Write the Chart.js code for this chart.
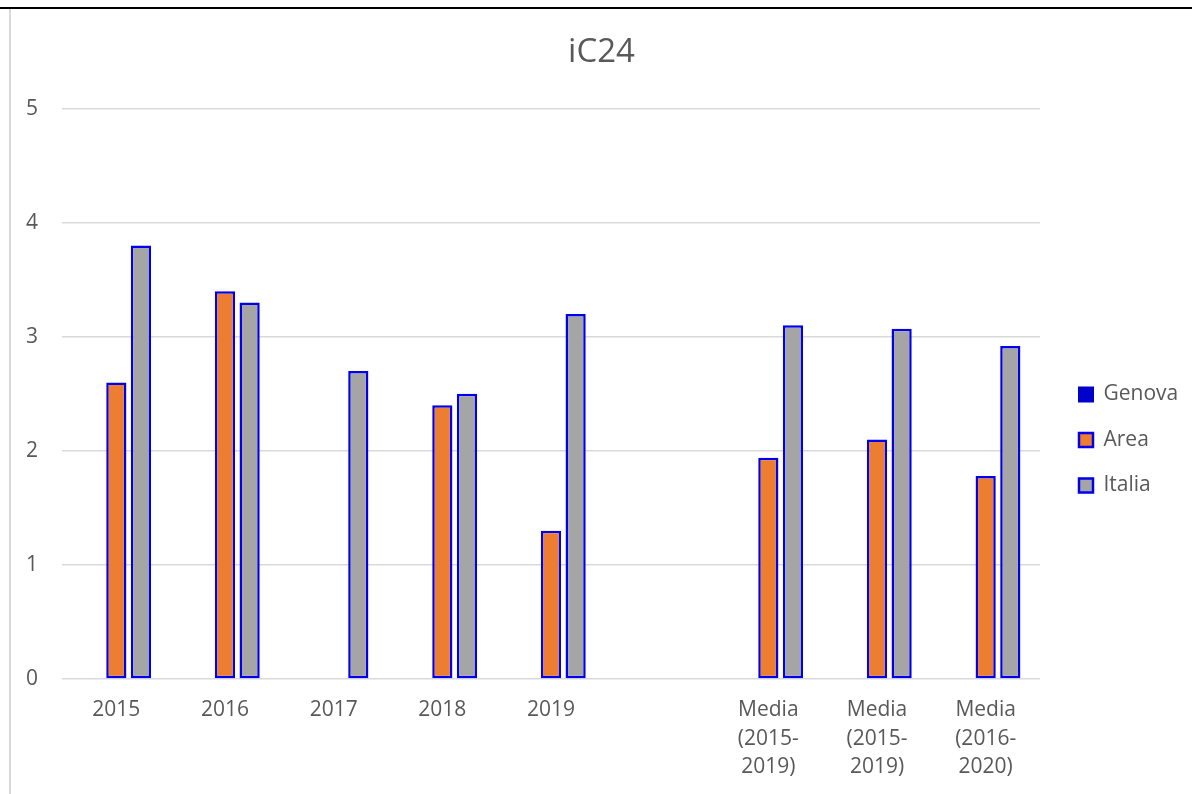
<!DOCTYPE html>
<html>
<head>
<meta charset="utf-8">
<script src="https://cdn.jsdelivr.net/npm/chart.js@4"></script>
<style>
  html, body { margin: 0; padding: 0; background: #ffffff; }
  #wrap { position: relative; width: 1192px; height: 794px; overflow: hidden; }
  #topline { position: absolute; left: 0; top: 7px; width: 1192px; height: 2px; background: #000; }
  #leftline { position: absolute; left: 9px; top: 9px; width: 2px; height: 785px; background: #d9d9d9; }
  canvas { position: absolute; left: 0; top: 0; }
</style>
</head>
<body>
<div id="wrap">
  <canvas id="c" width="1192" height="794"></canvas>
  <div id="topline"></div>
  <div id="leftline"></div>
</div>
<script>
const categories = [
  '2015', '2016', '2017', '2018', '2019', '',
  ['Media', '(2015-', '2019)'],
  ['Media', '(2015-', '2019)'],
  ['Media', '(2016-', '2020)']
];
const genova = [null, null, null, null, null, null, null, null, null];
const area   = [2.6, 3.4, null, 2.4, 1.3, null, 1.94, 2.1, 1.78];
const italia = [3.8, 3.3, 2.7, 2.5, 3.2, null, 3.1, 3.07, 2.92];
const yTicks = [0, 1, 2, 3, 4, 5];
const chartTitle = 'iC24';

const FONT = "'Open Sans', 'DejaVu Sans', sans-serif";
const TXT = '#595959';
const BORDER = '#0000EE';

const legendPlacer = {
  id: 'legendPlacer',
  afterInit(chart) {
    const lg = chart.legend;
    const orig = lg.fit.bind(lg);
    lg.fit = function () { orig(); this.width = 152; };
  },
  afterLayout(chart) {
    const lg = chart.legend;
    const dx = 14.5, dy = 38;
    lg.left += dx; lg.right += dx;
    lg.top += dy; lg.bottom += dy;
  }
};

new Chart(document.getElementById('c'), {
  type: 'bar',
  data: {
    labels: categories,
    datasets: [
      { label: 'Genova', data: genova, backgroundColor: '#0000CC', borderColor: '#0000CC', borderWidth: 2, borderSkipped: false },
      { label: 'Area', data: area, backgroundColor: '#ED7D31', borderColor: BORDER, borderWidth: 2.5, borderSkipped: false },
      { label: 'Italia', data: italia, backgroundColor: '#A5A5A5', borderColor: BORDER, borderWidth: 2.5, borderSkipped: false }
    ]
  },
  plugins: [legendPlacer],
  options: {
    responsive: false,
    animation: false,
    devicePixelRatio: 1,
    categoryPercentage: 0.68,
    barPercentage: 0.82,
    layout: { padding: { left: 11, right: 0, top: 10, bottom: 0 } },
    plugins: {
      title: {
        display: true,
        text: chartTitle,
        color: TXT,
        font: { family: FONT, size: 33, weight: 'normal' },
        padding: { top: 23, bottom: 36 }
      },
      legend: {
        display: true,
        position: 'right',
        align: 'center',
        labels: {
          color: TXT,
          font: { family: FONT, size: 21 },
          boxWidth: 14,
          boxHeight: 14,
          padding: 24.5
        }
      },
      tooltip: { enabled: false }
    },
    scales: {
      x: {
        grid: { display: false, drawTicks: false },
        border: { display: false },
        ticks: {
          color: TXT,
          font: { family: FONT, size: 21, lineHeight: 1.36 },
          padding: 17,
          maxRotation: 0,
          autoSkip: false
        },
        afterFit(s) { s.height = 115; }
      },
      y: {
        min: 0,
        max: 5,
        grid: { color: '#D9D9D9', lineWidth: 1.5, drawTicks: false },
        border: { display: false },
        afterBuildTicks(s) { s.ticks = yTicks.map(v => ({ value: v })); },
        ticks: {
          color: TXT,
          font: { family: FONT, size: 21 },
          padding: 24
        },
        afterFit(s) { s.width = 51; }
      }
    }
  }
});
</script>
</body>
</html>
